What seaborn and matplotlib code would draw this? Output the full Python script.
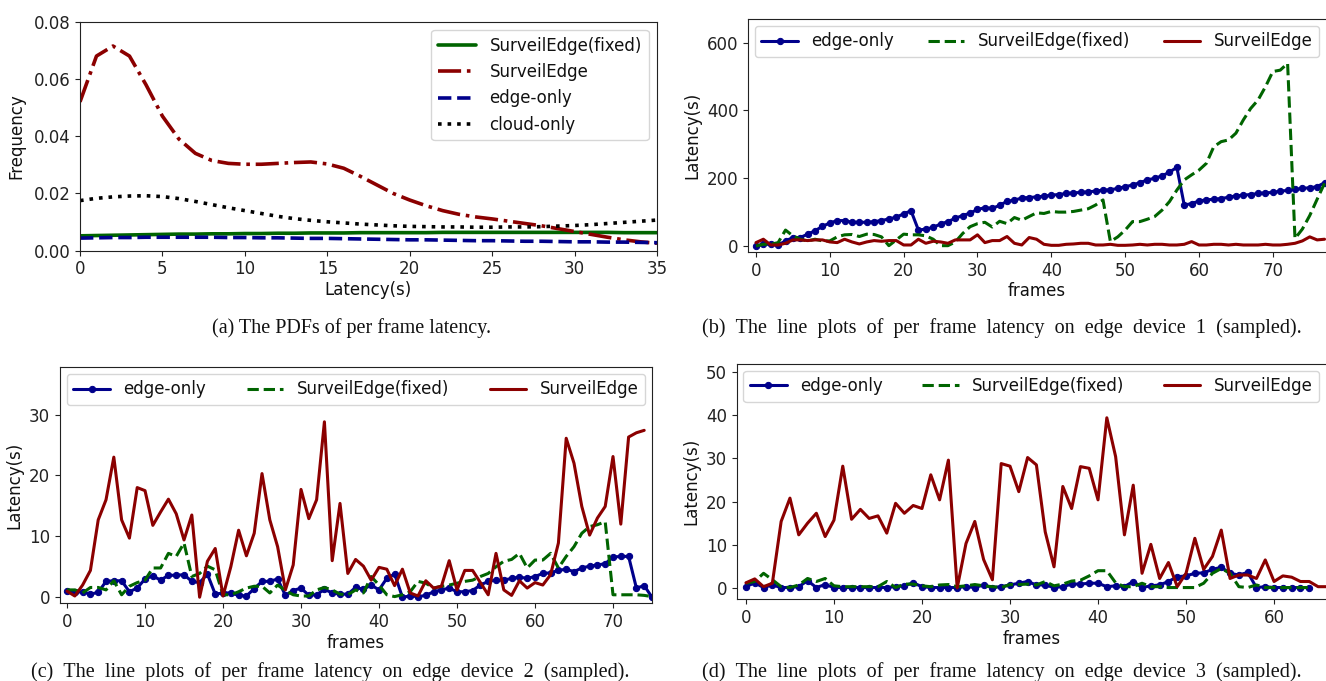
import matplotlib
matplotlib.use("Agg")
import matplotlib.pyplot as plt
import seaborn as sns
import pandas as pd

# ---------------- data ----------------
# (a) PDFs of per-frame latency
pdf_latency = list(range(0, 36))
pdf_surveiledge = [0.052, 0.068, 0.0715, 0.068, 0.058, 0.047, 0.039, 0.034, 0.0315, 0.0305,
                   0.0302, 0.0302, 0.0305, 0.0308, 0.031, 0.0303, 0.0288, 0.026, 0.023, 0.020,
                   0.0177, 0.0157, 0.014, 0.0127, 0.0118, 0.0111, 0.0103, 0.0095, 0.0087, 0.0077,
                   0.0067, 0.0057, 0.0047, 0.0038, 0.0031, 0.0026]
pdf_cloud = [0.0175, 0.0183, 0.0188, 0.0191, 0.0192, 0.0189, 0.0182, 0.0172, 0.0161, 0.015,
             0.014, 0.013, 0.012, 0.0112, 0.0106, 0.0101, 0.0097, 0.0093, 0.009, 0.0087,
             0.0085, 0.0084, 0.0083, 0.0083, 0.0082, 0.0082, 0.0083, 0.0083, 0.0084, 0.0086,
             0.0088, 0.0091, 0.0095, 0.0099, 0.0103, 0.0107]
pdf_fixed = [0.0052, 0.0053, 0.0054, 0.0055, 0.0056, 0.0057, 0.0058, 0.0058, 0.0059, 0.0059,
             0.0060, 0.0060, 0.0061, 0.0061, 0.0062, 0.0062, 0.0062, 0.0063, 0.0063, 0.0063,
             0.0063, 0.0063, 0.0064, 0.0064, 0.0064, 0.0064, 0.0064, 0.0064, 0.0064, 0.0064,
             0.0064, 0.0064, 0.0064, 0.0063, 0.0063, 0.0063]
pdf_edge = [0.0044, 0.0045, 0.0046, 0.0046, 0.0047, 0.0047, 0.0047, 0.0047, 0.0047, 0.0046,
            0.0046, 0.0045, 0.0045, 0.0044, 0.0043, 0.0043, 0.0042, 0.0041, 0.004, 0.0039,
            0.0038, 0.0038, 0.0037, 0.0036, 0.0035, 0.0035, 0.0034, 0.0033, 0.0033, 0.0032,
            0.0031, 0.0031, 0.003, 0.003, 0.0029, 0.0028]

# (b) edge device 1
dev1_edge = [0, 5, 5, 3, 15, 25, 25, 35, 45, 58,
             68, 75, 75, 70, 70, 70, 72, 75, 80, 85,
             95, 104, 47, 50, 55, 65, 72, 82, 90, 97,
             108, 113, 111, 120, 132, 135, 142, 143, 145, 147,
             150, 152, 155, 157, 158, 160, 162, 165, 166, 170,
             175, 180, 187, 195, 200, 207, 218, 232, 121, 125,
             133, 136, 138, 140, 144, 148, 150, 152, 155, 157,
             158, 162, 164, 167, 170, 172, 175, 187]
dev1_fixed = [0, 5, 5, 10, 47, 30, 20, 15, 20, 15,
              15, 27, 33, 34, 28, 35, 34, 27, 1, 18,
              35, 33, 33, 30, 20, 1, 1, 12, 37, 57,
              66, 70, 56, 73, 66, 84, 76, 87, 98, 96,
              102, 100, 100, 102, 106, 110, 121, 136, 13, 27,
              47, 72, 72, 79, 87, 106, 131, 165, 195, 210,
              224, 244, 293, 308, 313, 333, 372, 406, 431, 470,
              515, 519, 539, 22, 50, 90, 138, 185]
dev1_surv = [10, 20, 3, 3, 8, 18, 18, 16, 18, 18,
             12, 10, 20, 12, 6, 12, 16, 14, 16, 16,
             3, 3, 20, 8, 14, 12, 8, 18, 18, 18,
             33, 10, 16, 16, 28, 8, 3, 25, 20, 5,
             2, 2, 5, 6, 8, 8, 3, 3, 5, 2,
             2, 3, 5, 3, 5, 5, 3, 3, 5, 13,
             3, 3, 5, 5, 3, 5, 3, 3, 3, 5,
             3, 3, 5, 8, 15, 27, 18, 20]

# (c) edge device 2
dev2_edge = [1.1, 0.8, 0.9, 0.5, 0.8, 2.6, 2.7, 2.7, 0.9, 1.5,
             3.0, 3.5, 2.8, 3.6, 3.6, 3.7, 2.6, 2.4, 3.8, 0.5,
             0.7, 0.7, 0.3, 0.2, 1.4, 2.6, 2.6, 3.0, 0.3, 1.1,
             1.5, 0.3, 0.4, 1.3, 0.7, 0.5, 0.5, 1.6, 1.3, 2.0,
             1.2, 3.1, 3.8, 0.0, 0.2, 0.1, 0.3, 0.9, 1.2, 1.5,
             0.9, 0.9, 1.1, 2.0, 2.6, 2.8, 2.8, 3.1, 3.3, 3.1,
             3.4, 3.9, 4.0, 4.4, 4.6, 4.2, 4.8, 5.1, 5.3, 5.5,
             6.6, 6.7, 6.7, 1.5, 1.9, 0.0]
dev2_fixed = [1.2, 1.2, 0.7, 1.6, 1.6, 1.2, 2.7, 0.4, 1.8, 2.4,
              2.8, 4.8, 4.8, 7.2, 6.7, 8.9, 3.4, 3.9, 5.1, 4.5,
              0.4, 0.4, 0.9, 1.5, 1.8, 1.8, 0.7, 2.0, 1.1, 0.4,
              0.2, 0.2, 1.2, 1.6, 1.2, 0.5, 0.4, 1.2, 0.7, 3.4,
              2.0, 0.4, 0.1, 0.4, 0.9, 2.6, 2.3, 1.5, 1.8, 2.0,
              2.3, 2.6, 2.8, 3.4, 3.9, 5.0, 5.9, 6.2, 7.2, 4.8,
              6.1, 6.1, 7.2, 4.8, 6.7, 8.3, 10.5, 11.6, 11.9, 12.4,
              0.4, 0.4, 0.4, 0.4, 0.3, 0.1]
dev2_surv = [1.0, 0.2, 2.0, 4.4, 12.7, 16.0, 23.0, 12.7, 9.7, 18.0,
             17.5, 11.8, 14.0, 16.1, 13.7, 9.4, 13.5, 0.0, 5.9, 8.0,
             0.2, 5.0, 11.0, 6.8, 10.5, 20.3, 12.7, 8.3, 1.2, 5.3,
             17.7, 12.9, 16.0, 28.8, 6.0, 15.4, 3.9, 6.2, 5.1, 2.8,
             4.9, 4.6, 1.9, 4.6, 0.7, 0.2, 2.7, 1.5, 1.8, 6.0,
             1.2, 4.4, 4.4, 2.4, 0.4, 7.2, 1.2, 0.3, 2.7, 1.5,
             2.4, 2.0, 3.7, 8.9, 26.1, 22.0, 14.9, 10.2, 13.0, 14.9,
             23.1, 12.0, 26.3, 27.0, 27.4]

# (d) edge device 3
dev3_edge = [0.3, 1.2, 0.1, 0.7, 0.1, 0.1, 0.3, 1.7, 0.1, 0.8,
             0.1, 0.1, 0.1, 0.1, 0.1, 0.1, 0.1, 0.3, 0.5, 1.2,
             0.3, 0.1, 0.1, 0.1, 0.1, 0.3, 0.1, 0.7, 0.1, 0.3,
             0.7, 1.1, 1.5, 0.7, 0.7, 0.1, 0.3, 0.9, 0.9, 1.1,
             1.1, 0.3, 0.5, 0.3, 1.5, 0.1, 0.5, 0.7, 1.5, 2.6,
             2.8, 3.4, 3.5, 4.3, 4.8, 3.4, 3.0, 3.6, 0.1, 0.3,
             0.1, 0.1, 0.1, 0.1, 0.1]
dev3_fixed = [1.1, 1.5, 3.4, 1.9, 0.3, 0.1, 0.7, 2.2, 1.5, 2.2,
              0.5, 0.3, 0.3, 0.3, 0.3, 0.3, 1.5, 0.1, 0.9, 0.9,
              0.5, 0.3, 0.7, 0.8, 0.3, 0.5, 0.8, 0.5, 0.3, 0.1,
              0.8, 0.8, 0.9, 0.7, 1.5, 0.5, 0.9, 1.6, 1.8, 2.8,
              4.0, 4.0, 1.2, 0.3, 0.3, 1.1, 0.3, 0.3, 0.1, 0.1,
              0.1, 0.1, 1.1, 3.4, 4.5, 3.4, 0.3, 0.1, 0.7, 0.1,
              0.1, 0.1, 0.1, 0.1, 0.1]
dev3_surv = [1.2, 2.1, 0.3, 1.1, 15.4, 20.8, 12.3, 15.0, 17.3, 11.9,
             15.7, 28.2, 15.9, 18.2, 16.1, 16.7, 12.7, 19.6, 17.3, 19.1,
             18.4, 26.2, 20.4, 29.6, 0.0, 10.3, 15.4, 6.6, 1.9, 28.8,
             28.2, 22.3, 30.2, 28.5, 13.0, 4.9, 23.5, 18.4, 28.1, 27.7,
             20.4, 39.4, 30.4, 12.3, 23.8, 3.4, 10.1, 2.2, 5.9, 0.3,
             3.4, 11.5, 4.3, 7.3, 13.4, 2.2, 3.0, 3.0, 2.2, 6.5,
             1.5, 2.8, 2.5, 1.5, 1.5, 0.3, 0.3]

captions = ["(a) The PDFs of per frame latency.",
            "(b) The line plots of per frame latency on edge device 1 (sampled).",
            "(c) The line plots of per frame latency on edge device 2 (sampled).",
            "(d) The line plots of per frame latency on edge device 3 (sampled)."]

# ---------------- style ----------------
sns.set_style("ticks")
plt.rcParams['font.family'] = ['DejaVu Sans']
plt.rcParams['xtick.labelsize'] = 12
plt.rcParams['ytick.labelsize'] = 12
plt.rcParams['axes.labelsize'] = 12
plt.rcParams['axes.edgecolor'] = '#222222'
plt.rcParams['xtick.color'] = '#222222'
plt.rcParams['ytick.color'] = '#222222'
plt.rcParams['axes.labelcolor'] = '#111111'
plt.rcParams['text.color'] = '#111111'

BLUE = '#00008B'
GREEN = '#006400'
RED = '#8B0000'

W, H = 1326, 681
fig = plt.figure(figsize=(W / 100, H / 100), dpi=100)


def px_axes(l, t, r, b):
    return fig.add_axes([l / W, 1 - b / H, (r - l) / W, (b - t) / H])


# ---- (a) ----
ax_a = px_axes(80, 21.7, 657, 250.7)
dfa = pd.DataFrame({"x": pdf_latency, "fixed": pdf_fixed, "surv": pdf_surveiledge,
                    "edge": pdf_edge, "cloud": pdf_cloud})
sns.lineplot(data=dfa, x="x", y="fixed", ax=ax_a, color=GREEN, lw=2.6, linestyle='-',
             label="SurveilEdge(fixed)")
sns.lineplot(data=dfa, x="x", y="surv", ax=ax_a, color=RED, lw=2.6, linestyle='-.',
             label="SurveilEdge")
sns.lineplot(data=dfa, x="x", y="edge", ax=ax_a, color=BLUE, lw=2.6, linestyle='--',
             label="edge-only")
sns.lineplot(data=dfa, x="x", y="cloud", ax=ax_a, color='black', lw=2.6, linestyle=':',
             label="cloud-only")
ax_a.set_xlim(0, 35)
ax_a.set_ylim(0, 0.08)
ax_a.set_xticks([0, 5, 10, 15, 20, 25, 30, 35])
ax_a.set_yticks([0.0, 0.02, 0.04, 0.06, 0.08])
ax_a.set_yticklabels(["0.00", "0.02", "0.04", "0.06", "0.08"])
ax_a.set_xlabel("Latency(s)", labelpad=2)
ax_a.set_ylabel("Frequency", labelpad=6)
ax_a.legend(loc='upper right', fontsize=12, handlelength=2.3)


def line_panel(ax, edge, fixed, surv, xlim, ylim, yticks, xticks):
    de = pd.DataFrame({"f": list(range(len(edge))), "v": edge})
    dfx = pd.DataFrame({"f": list(range(len(fixed))), "v": fixed})
    ds = pd.DataFrame({"f": list(range(len(surv))), "v": surv})
    sns.lineplot(data=de, x="f", y="v", ax=ax, color=BLUE, lw=2.2, marker='o',
                 markersize=4.5, markeredgecolor=BLUE, label="edge-only")
    sns.lineplot(data=dfx, x="f", y="v", ax=ax, color=GREEN, lw=2.2, linestyle='--',
                 label="SurveilEdge(fixed)")
    sns.lineplot(data=ds, x="f", y="v", ax=ax, color=RED, lw=2.2, linestyle='-',
                 label="SurveilEdge")
    ax.set_xlim(*xlim)
    ax.set_ylim(*ylim)
    ax.set_yticks(yticks)
    ax.set_xticks(xticks)
    ax.set_xlabel("frames", labelpad=2)
    ax.set_ylabel("Latency(s)")
    ax.legend(loc='upper left', ncol=3, mode='expand', bbox_to_anchor=(0, 0, 1, 1),
              borderaxespad=0.4, fontsize=12, handlelength=2.2)


# ---- (b) ----
ax_b = px_axes(748, 19, 1326, 252)
line_panel(ax_b, dev1_edge, dev1_fixed, dev1_surv, (-1.08, 77.2), (-17.7, 670),
           [0, 200, 400, 600], [0, 10, 20, 30, 40, 50, 60, 70])
ax_b.spines['right'].set_visible(False)

# ---- (c) ----
ax_c = px_axes(60, 367, 652, 603)
line_panel(ax_c, dev2_edge, dev2_fixed, dev2_surv, (-0.9, 75.0), (-0.95, 37.8),
           [0, 10, 20, 30], [0, 10, 20, 30, 40, 50, 60, 70])

# ---- (d) ----
ax_d = px_axes(736.7, 364, 1326, 599)
line_panel(ax_d, dev3_edge, dev3_fixed, dev3_surv, (-1.05, 65.9), (-2.55, 51.85),
           [0, 10, 20, 30, 40, 50], [0, 10, 20, 30, 40, 50, 60])
ax_d.spines['right'].set_visible(False)

# ---- captions ----
cap_pos = [(352, 328), (1002, 328), (330, 672), (1002, 672)]
for i, (txt, (cx, cy)) in enumerate(zip(captions, cap_pos)):
    shown = txt if i == 0 else txt.replace(" ", "\u2002")
    fig.text(cx / W, 1 - cy / H, shown, ha='center', va='center',
             family='Liberation Serif', fontsize=14.5, color='#111111')

fig.savefig("out.png", dpi=100)
